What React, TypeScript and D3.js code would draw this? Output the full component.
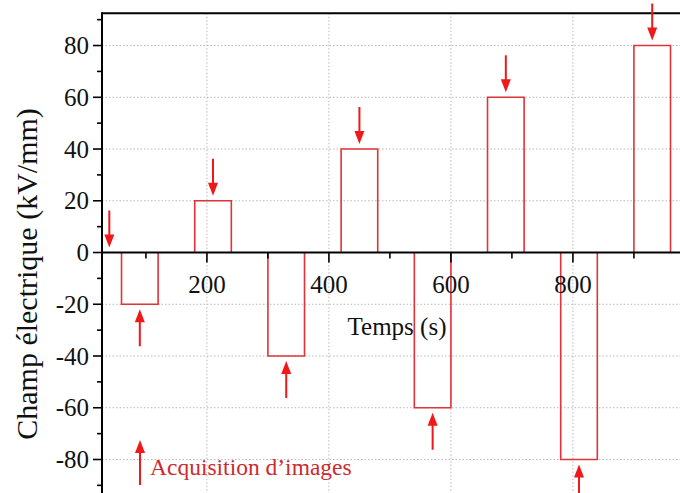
import React from "react";
import * as d3 from "d3";

// Electric field steps: start time (s) and field value (kV/mm); each step lasts 60 s
const stepStarts = [60, 180, 300, 420, 540, 660, 780, 900];
const stepValues = [-20, 20, -40, 40, -60, 60, -80, 80];
const stepDuration = 60;

// Image acquisition instants (s)
const acquisitionTimes = [40, 90, 210, 330, 450, 570, 690, 810, 930];

// Axis ticks
const xMajorTicks = [200, 400, 600, 800];
const xMinorTicks = [100, 300, 500, 700, 900];
const yMajorTicks = [-80, -60, -40, -20, 0, 20, 40, 60, 80];
const yMinorTicks = [-90, -70, -50, -30, -10, 10, 30, 50, 70, 90];

const xLabel = "Temps (s)";
const yLabel = "Champ électrique (kV/mm)";
const legendLabel = "Acquisition d’images";

const W = 680;
const H = 493;
const FONT = "'Liberation Serif', 'Times New Roman', serif";
const BAR_COLOR = "#e0343a";
const ARROW_COLOR = "#f01818";

const fieldAt = (t: number) => {
  for (let i = 0; i < stepStarts.length; i++) {
    if (t >= stepStarts[i] && t < stepStarts[i] + stepDuration) return stepValues[i];
  }
  return 0;
};

function Arrow({ x, tip, dir }: { x: number; tip: number; dir: 1 | -1 }) {
  // dir = 1: pointing down (tip below tail); dir = -1: pointing up
  const len = 37;
  const headLen = 13;
  const headHalf = 5;
  const tail = tip - dir * len;
  const base = tip - dir * headLen;
  return (
    <g>
      <line x1={x} x2={x} y1={tail} y2={base + dir * 1} stroke={ARROW_COLOR} strokeWidth={2} />
      <path
        d={`M${x},${tip} L${x - headHalf},${base} L${x + headHalf},${base} Z`}
        fill={ARROW_COLOR}
      />
    </g>
  );
}

export default function App() {
  const x = d3.scaleLinear().domain([28, 1000]).range([102, 102 + 972 * 0.61]);
  const y = d3.scaleLinear().domain([-95, 92.5]).range([498.3, 13.2]);

  const left = x.range()[0];
  const top = y(92.5);
  const bottom = H + 10;
  const right = W + 10;
  const y0 = y(0);

  const barPath = (start: number, v: number) => {
    const x1 = x(start);
    const x2 = x(start + stepDuration);
    return `M${x1},${y0} L${x1},${y(v)} L${x2},${y(v)} L${x2},${y0}`;
  };

  return (
    <svg
      width={W}
      height={H}
      style={{ position: "absolute", left: 0, top: 0, background: "#fff" }}
      fontFamily={FONT}
    >
      {/* grid */}
      <g stroke="#b8b8b8" strokeWidth={1} strokeDasharray="1.5,2">
        {xMajorTicks.map((t) => (
          <line key={`gx${t}`} x1={x(t)} x2={x(t)} y1={top} y2={bottom} />
        ))}
        {yMajorTicks
          .filter((v) => v !== 0)
          .map((v) => (
            <line key={`gy${v}`} x1={left} x2={right} y1={y(v)} y2={y(v)} />
          ))}
      </g>

      {/* field steps */}
      <g fill="none" stroke={BAR_COLOR} strokeWidth={1.6}>
        {stepStarts.map((s, i) => (
          <path key={`b${s}`} d={barPath(s, stepValues[i])} />
        ))}
      </g>

      {/* axes */}
      <g stroke="#000" fill="none">
        <line x1={left} x2={right} y1={top} y2={top} strokeWidth={2} />
        <line x1={left} x2={left} y1={top - 1} y2={bottom} strokeWidth={2} />
        <line x1={left} x2={right} y1={y0} y2={y0} strokeWidth={2} />
        {yMajorTicks.map((v) => (
          <line key={`ty${v}`} x1={left - 9} x2={left} y1={y(v)} y2={y(v)} strokeWidth={1.6} />
        ))}
        {yMinorTicks.map((v) => (
          <line key={`tym${v}`} x1={left - 5} x2={left} y1={y(v)} y2={y(v)} strokeWidth={1.6} />
        ))}
        {xMajorTicks.map((t) => (
          <line key={`tx${t}`} x1={x(t)} x2={x(t)} y1={y0} y2={y0 + 10} strokeWidth={1.6} />
        ))}
        {xMinorTicks.map((t) => (
          <line key={`txm${t}`} x1={x(t)} x2={x(t)} y1={y0} y2={y0 + 6} strokeWidth={1.6} />
        ))}
      </g>

      {/* tick labels */}
      <g fontSize={25} fill="#111">
        {yMajorTicks.map((v) => (
          <text key={`ly${v}`} x={left - 13} y={y(v)} dy="0.34em" textAnchor="end">
            {v < 0 ? `-${Math.abs(v)}` : `${v}`}
          </text>
        ))}
        {xMajorTicks.map((t) => (
          <text key={`lx${t}`} x={x(t)} y={y0 + 40} textAnchor="middle">
            {t}
          </text>
        ))}
      </g>

      {/* axis titles */}
      <text x={397} y={335} fontSize={25} textAnchor="middle" fill="#111">
        {xLabel}
      </text>
      <text
        transform={`translate(37, ${274}) rotate(-90)`}
        fontSize={30}
        textAnchor="middle"
        fill="#111"
      >
        {yLabel}
      </text>

      {/* acquisition arrows */}
      {acquisitionTimes.map((t) => {
        const v = fieldAt(t);
        const down = v >= 0;
        const tip = down ? y(v) - 5 : y(v) + 5;
        return <Arrow key={`a${t}`} x={x(t)} tip={tip} dir={down ? 1 : -1} />;
      })}

      {/* legend */}
      <Arrow x={140} tip={440} dir={-1} />
      <line x1={140} x2={140} y1={470} y2={485} stroke={ARROW_COLOR} strokeWidth={2} />
      <text x={150} y={475} fontSize={23.5} fill="#cc2a2e">
        {legendLabel}
      </text>
    </svg>
  );
}
